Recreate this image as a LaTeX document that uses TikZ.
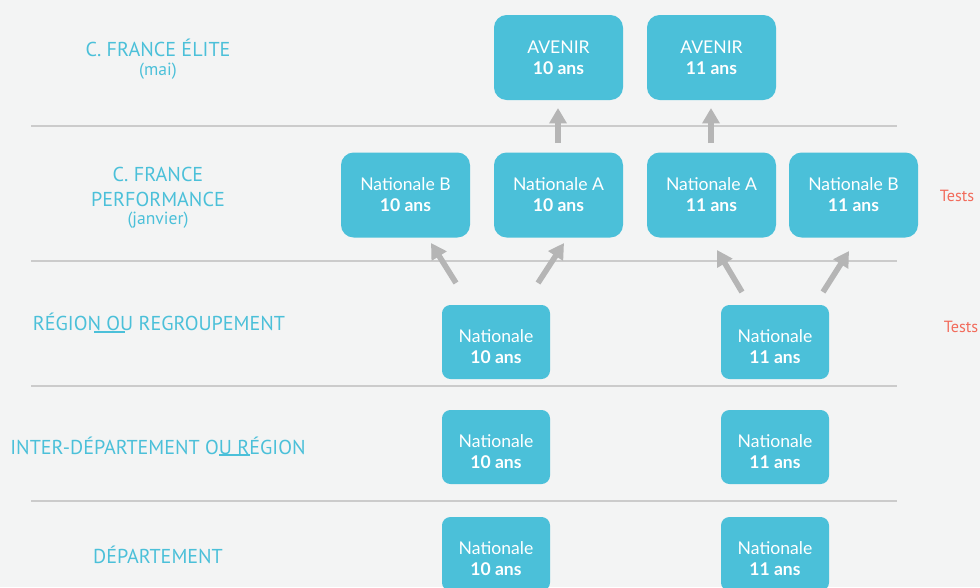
\documentclass[tikz,border=0pt]{standalone}
\usepackage{fontspec}
\setmainfont{PT Sans}
\newfontfamily\boxfont{Lato}
\usetikzlibrary{arrows.meta}
\definecolor{bleu}{HTML}{4BC0D9}
\definecolor{fond}{HTML}{F3F4F4}
\definecolor{trait}{HTML}{CBCBCB}
\definecolor{fleche}{HTML}{B5B5B5}
\definecolor{rouge}{HTML}{F26B5B}
\tikzset{
  niveau/.style={text=bleu, font=\fontsize{14.3}{18}\selectfont, align=center},
  mois/.style={niveau, font=\fontsize{12.5}{14}\selectfont},
  grand/.style={fill=bleu, rounded corners=9pt, minimum width=129*0.025cm, minimum height=85*0.025cm,
    text=white, align=center, font=\boxfont\fontsize{12.5}{15}\selectfont},
  petit/.style={grand, rounded corners=6pt, minimum width=108*0.025cm, minimum height=74*0.025cm},
  fl/.style={draw=fleche, line width=4pt, -{Triangle[length=11pt,width=12pt]}},
  sep/.style={draw=trait, line width=1pt},
}
\newcommand{\deux}[2]{#1\\\textbf{#2}}
\newcommand{\bas}[2]{\rule{0pt}{16pt}#1\\\textbf{#2}}
\begin{document}
\begin{tikzpicture}[x=0.025cm, y=-0.025cm]
  %%%%% START %%%%%
  \fill[fond] (0,0) rectangle (980,587);
  \useasboundingbox (0,0) rectangle (980,587);

  \draw[sep] (31,126) -- (897,126);
  \draw[sep] (31,261) -- (897,261);
  \draw[sep] (31,386) -- (897,386);
  \draw[sep] (31,501) -- (897,501);

  % niveaux
  \node[niveau] (elite) at (158,48) {C. FRANCE ÉLITE};
  \node[mois] (mai) at (158,71) {(mai)};
  \node[niveau] (perf) at (158,187) {C. FRANCE\\PERFORMANCE};
  \node[mois] (janvier) at (158,220) {(janvier)};
  \node[niveau] (region) at (159,322) {RÉGION OU REGROUPEMENT};
  \node[niveau] (inter) at (158,446) {INTER-DÉPARTEMENT OU RÉGION};
  \node[niveau] (dep) at (158,555) {DÉPARTEMENT};
  \draw[bleu, line width=1.3pt] (94,332) -- (125,332);
  \draw[bleu, line width=1.3pt] (219,455) -- (250,455);

  % boites
  \node[grand] (av10) at (558.5,57.5) {\deux{AVENIR}{10 ans}};
  \node[grand] (av11) at (711.5,57.5) {\deux{AVENIR}{11 ans}};
  \node[grand] (nb10) at (405.5,195) {\deux{Nationale B}{10 ans}};
  \node[grand] (na10) at (558.5,195) {\deux{Nationale A}{10 ans}};
  \node[grand] (na11) at (711.5,195) {\deux{Nationale A}{11 ans}};
  \node[grand] (nb11) at (853.5,195) {\deux{Nationale B}{11 ans}};
  \node[petit] (reg10) at (496,342) {\bas{Nationale}{10 ans}};
  \node[petit] (reg11) at (775,342) {\bas{Nationale}{11 ans}};
  \node[petit] (int10) at (496,447) {\bas{Nationale}{10 ans}};
  \node[petit] (int11) at (775,447) {\bas{Nationale}{11 ans}};
  \node[petit] (dep10) at (496,554) {\bas{Nationale}{10 ans}};
  \node[petit] (dep11) at (775,554) {\bas{Nationale}{11 ans}};

  \node[text=rouge, font=\fontsize{11.5}{13}\selectfont] (tests1) at (957,196) {Tests};
  \node[text=rouge, font=\fontsize{11.5}{13}\selectfont] (tests2) at (961,327) {Tests};

  % fleches
  \coordinate (q1) at (558,143); \coordinate (p1) at (558,108);
  \coordinate (q2) at (711,143); \coordinate (p2) at (711,108);
  \coordinate (q3) at (456,283); \coordinate (p3) at (431,243);
  \coordinate (q4) at (538,283); \coordinate (p4) at (564,243);
  \coordinate (q5) at (742,292); \coordinate (p5) at (717,250);
  \coordinate (q6) at (823,292); \coordinate (p6) at (849,251);
  \foreach \i in {1,...,6}
    \draw[fl] (q\i) -- (p\i);
  %%%%% END %%%%%
\end{tikzpicture}
\end{document}
